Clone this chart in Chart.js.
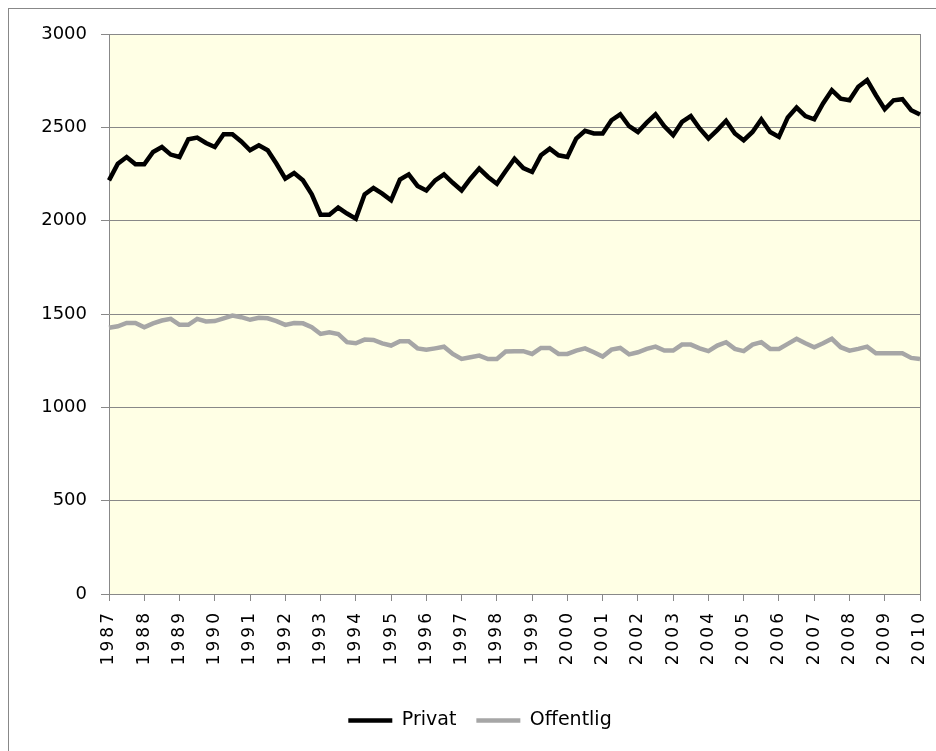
<!DOCTYPE html>
<html lang="sv">
<head>
<meta charset="utf-8">
<title>Privat och offentlig</title>
<script src="https://cdn.jsdelivr.net/npm/chart.js@4.4.1/dist/chart.umd.min.js"></script>
<style>
  html, body { margin: 0; padding: 0; background: #ffffff; }
  #wrap { width: 936px; height: 751px; position: relative; }
</style>
</head>
<body>
<div id="wrap"><canvas id="chart"></canvas></div>
<script>
// Kvartalsvärden 1987 K1 – 2010 K1 (tusental)
const years = [1987, 1988, 1989, 1990, 1991, 1992, 1993, 1994, 1995, 1996, 1997, 1998,
  1999, 2000, 2001, 2002, 2003, 2004, 2005, 2006, 2007, 2008, 2009, 2010];

const quarters = [];
years.forEach((year, i) => {
  const count = i === years.length - 1 ? 1 : 4;
  for (let q = 1; q <= count; q++) quarters.push(`${year} K${q}`);
});

const privat = [
  2216, 2305, 2341, 2302,
  2302, 2368, 2395, 2354,
  2341, 2436, 2445, 2416,
  2395, 2463, 2463, 2424,
  2377, 2404, 2377, 2305,
  2225, 2255, 2216, 2141,
  2032, 2032, 2070, 2038,
  2011, 2141, 2175, 2145,
  2109, 2220, 2248, 2186,
  2162, 2216, 2248, 2203,
  2162, 2225, 2279, 2234,
  2198, 2266, 2332, 2282,
  2261, 2350, 2386, 2350,
  2341, 2440, 2481, 2467,
  2467, 2538, 2570, 2506,
  2475, 2525, 2570, 2506,
  2458, 2529, 2560, 2494,
  2440, 2485, 2535, 2467,
  2431, 2475, 2542, 2475,
  2449, 2553, 2606, 2560,
  2543, 2628, 2699, 2654,
  2645, 2717, 2753, 2672,
  2597, 2645, 2651, 2592,
  2569
];

const offentlig = [
  1426, 1434, 1452, 1452,
  1429, 1450, 1465, 1474,
  1442, 1442, 1474, 1460,
  1462, 1477, 1492, 1483,
  1469, 1480, 1477, 1462,
  1442, 1452, 1450, 1429,
  1393, 1402, 1393, 1349,
  1343, 1363, 1361, 1343,
  1331, 1354, 1354, 1316,
  1308, 1316, 1325, 1286,
  1259, 1268, 1277, 1259,
  1259, 1299, 1301, 1301,
  1286, 1318, 1318, 1286,
  1286, 1304, 1316, 1295,
  1272, 1309, 1318, 1284,
  1295, 1313, 1325, 1304,
  1304, 1336, 1336, 1316,
  1301, 1331, 1349, 1313,
  1301, 1336, 1349, 1313,
  1313, 1340, 1367, 1343,
  1322, 1343, 1367, 1322,
  1304, 1313, 1325, 1290,
  1290, 1290, 1290, 1265,
  1259
];

const GRID = "#888888";

Chart.defaults.font.family = "'DejaVu Sans', sans-serif";
Chart.defaults.color = "#000000";

const excelLook = {
  id: "excelLook",
  afterLayout(chart) {
    // spärrade årtal på x-axeln
    const xScale = chart.scales.x;
    if (xScale._spaced) return;
    const drawLabels = xScale.drawLabels.bind(xScale);
    xScale.drawLabels = (area) => {
      chart.ctx.save();
      chart.ctx.letterSpacing = "3px";
      drawLabels(area);
      chart.ctx.restore();
    };
    xScale._spaced = true;
  },
  beforeDraw(chart) {
    const { ctx, chartArea: a } = chart;
    ctx.save();
    ctx.strokeStyle = GRID;
    ctx.lineWidth = 1;
    ctx.strokeRect(8.5, 8.5, chart.width + 10, chart.height + 10);
    ctx.fillStyle = "#ffffe5";
    ctx.fillRect(a.left, a.top, a.right - a.left, a.bottom - a.top);
    ctx.restore();
  },
  beforeDatasetsDraw(chart) {
    const { ctx, chartArea: a } = chart;
    ctx.save();
    ctx.strokeStyle = GRID;
    ctx.lineWidth = 1;
    ctx.beginPath();
    ctx.moveTo(Math.round(a.right) + 0.5, a.top);
    ctx.lineTo(Math.round(a.right) + 0.5, a.bottom);
    ctx.stroke();
    ctx.restore();
  }
};

new Chart(document.querySelector("#chart"), {
  type: "line",
  data: {
    labels: quarters,
    datasets: [
      {
        label: "Privat",
        data: privat,
        borderColor: "#000000",
        backgroundColor: "#000000",
        borderWidth: 4.5,
        pointRadius: 0,
        pointStyle: "line",
        tension: 0
      },
      {
        label: "Offentlig",
        data: offentlig,
        borderColor: "#a6a6a6",
        backgroundColor: "#a6a6a6",
        borderWidth: 4.5,
        pointRadius: 0,
        pointStyle: "line",
        tension: 0
      }
    ]
  },
  options: {
    responsive: true,
    maintainAspectRatio: false,
    animation: false,
    layout: { padding: { top: 34, right: 16, bottom: 11, left: 40 } },
    plugins: {
      tooltip: { enabled: false },
      legend: {
        position: "bottom",
        labels: {
          usePointStyle: true,
          pointStyleWidth: 44,
          padding: 20,
          color: "#000000",
          font: { size: 19 }
        }
      }
    },
    scales: {
      x: {
        offset: false,
        afterFit: (scale) => {
          scale.height = 97;
          scale.paddingLeft = 0;
          scale.paddingRight = 0;
        },
        grid: {
          drawOnChartArea: false,
          tickLength: 7,
          color: (ctx) => (ctx.index % 4 === 0 ? GRID : "rgba(0,0,0,0)")
        },
        border: { color: GRID },
        ticks: {
          autoSkip: false,
          minRotation: 90,
          maxRotation: 90,
          padding: 9,
          font: { size: 17 },
          callback: (value, index) => (index % 4 === 0 ? quarters[index].slice(0, 4) : "")
        }
      },
      y: {
        min: 0,
        max: 3000,
        afterFit: (scale) => { scale.width = 69; },
        grid: { color: GRID, tickLength: 8 },
        border: { color: GRID },
        ticks: {
          stepSize: 500,
          padding: 14,
          font: { size: 18 },
          callback: (value) => String(value)
        }
      }
    }
  },
  plugins: [excelLook]
});
</script>
</body>
</html>
